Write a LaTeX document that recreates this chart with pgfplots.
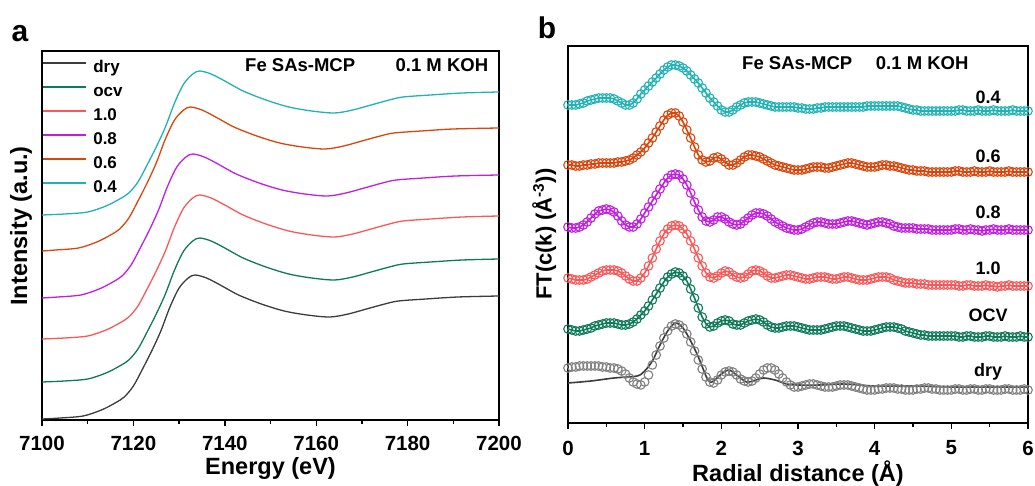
\documentclass[border=0pt]{standalone}
\usepackage{fontspec}
\setmainfont{Liberation Sans}
\usepackage{pgfplots}
\usepackage{pgfplotstable}
\pgfplotsset{compat=1.18}

\definecolor{cdry}{HTML}{3C3C3C}
\definecolor{cgray}{HTML}{808080}
\definecolor{cocv}{HTML}{0F7A58}
\definecolor{cten}{HTML}{FA5858}
\definecolor{cpur}{HTML}{C21EE0}
\definecolor{cora}{HTML}{D9460C}
\definecolor{ccya}{HTML}{20B2B4}

\pgfplotstableread{
R dry ocv ten eight six four
0.00 55 94 145 196 258 318
0.05 56 93 144 195 258 318
0.10 56 92 143 195 257 318
0.15 57 92 143 196 257 319
0.20 57 93 143 198 258 320
0.25 57 94 144 201 258 322
0.30 57 95 146 205 259 323
0.35 57 97 148 209 259 324
0.40 57 98 150 212 260 325
0.45 56 99 152 213 260 325
0.50 56 100 153 214 260 325
0.55 55 100 153 213 260 325
0.60 55 100 153 211 260 324
0.65 54 99 152 207 261 322
0.70 52 98 150 202 261 320
0.75 49 98 147 198 262 318
0.80 45 99 144 196 263 318
0.85 41 101 142 196 265 320
0.90 39 104 142 199 268 324
0.95 38 108 145 204 271 329
1.00 41 112 150 210 275 333
1.05 48 117 157 216 280 337
1.10 58 123 165 222 285 341
1.15 68 129 174 228 291 345
1.20 77 135 182 234 297 349
1.25 85 141 189 240 303 353
1.30 92 146 194 245 308 356
1.35 97 149 197 248 310 358
1.40 99 151 198 249 310 358
1.45 98 150 197 248 307 357
1.50 95 147 194 244 301 355
1.55 89 142 189 238 293 352
1.60 81 134 182 230 285 348
1.65 72 125 174 221 276 344
1.70 63 115 165 213 268 340
1.75 54 106 157 206 263 335
1.80 46 99 150 202 261 330
1.85 41 96 146 201 262 325
1.90 40 97 145 203 265 321
1.95 43 100 147 206 266 317
2.00 48 102 150 206 264 313
2.05 51 103 152 204 261 311
2.10 52 102 151 201 258 311
2.15 51 99 148 199 258 313
2.20 48 98 146 198 260 316
2.25 44 98 145 199 263 318
2.30 42 100 146 202 266 320
2.35 41 102 149 205 268 321
2.40 42 103 152 208 268 321
2.45 45 104 153 210 267 321
2.50 49 103 152 210 266 320
2.55 53 101 150 209 264 319
2.60 55 98 147 207 262 318
2.65 55 96 145 204 260 317
2.70 53 95 145 201 258 316
2.75 49 95 146 199 257 316
2.80 45 96 147 197 256 316
2.85 41 97 148 195 255 316
2.90 38 97 148 194 254 316
2.95 36 97 147 193 253 316
3.00 36 96 146 193 253 315
3.05 37 95 145 194 253 315
3.10 38 94 144 196 254 314
3.15 39 93 144 198 255 314
3.20 39 93 145 200 256 314
3.25 38 93 146 201 256 315
3.30 37 93 146 201 256 315
3.35 36 94 146 200 255 316
3.40 36 95 145 199 255 316
3.45 36 96 144 199 256 316
3.50 37 97 144 199 257 316
3.55 38 97 145 200 258 316
3.60 38 97 146 201 259 316
3.65 38 96 146 202 260 316
3.70 37 95 145 202 260 316
3.75 36 94 144 201 259 316
3.80 35 93 143 200 258 316
3.85 34 92 143 199 257 316
3.90 33 92 143 198 256 317
3.95 33 92 144 199 256 317
4.00 33 93 145 200 256 317
4.05 34 94 146 201 257 317
4.10 34 95 146 201 258 317
4.15 35 96 146 200 258 317
4.20 35 96 145 199 257 317
4.25 35 96 143 197 257 317
4.30 34 95 142 196 256 317
4.35 34 94 141 195 255 316
4.40 33 92 140 195 254 315
4.45 33 91 140 195 253 314
4.50 33 90 140 195 253 313
4.55 34 89 139 194 252 313
4.60 34 88 139 194 252 312
4.65 35 88 139 194 252 312
4.70 35 87 138 194 251 312
4.75 34 87 138 193 251 312
4.80 34 87 138 193 251 312
4.85 33 87 138 193 251 312
4.90 33 87 138 193 251 312
4.95 33 87 138 193 251 312
5.00 33 87 138 193 251 312
5.05 34 87 138 194 252 312
5.10 34 86 137 194 252 313
5.15 33 86 137 193 251 313
5.20 33 87 138 193 251 312
5.25 34 87 138 194 251 312
5.30 34 86 137 193 252 312
5.35 33 86 137 193 251 313
5.40 33 86 137 192 251 312
5.45 34 87 138 193 251 312
5.50 34 87 137 193 252 312
5.55 33 86 137 194 251 313
5.60 33 86 136 193 251 312
5.65 33 86 137 193 251 312
5.70 34 87 137 193 251 312
5.75 34 86 138 194 252 312
5.80 33 86 137 193 251 313
5.85 33 86 137 193 251 312
5.90 33 87 137 193 251 312
5.95 34 86 137 193 251 312
6.00 33 86 137 193 251 312
}\ftdata

\begin{document}
\begin{tikzpicture}
\useasboundingbox (0,0) rectangle (1035pt,486pt);

% ---------------- panel a ----------------
\begin{axis}[
  at={(42pt,66pt)}, anchor=south west, scale only axis,
  width=457pt, height=369pt,
  xmin=7100, xmax=7200, ymin=0, ymax=369,
  xtick={7100,7120,7140,7160,7180,7200}, minor x tick num=1,
  ytick=\empty, xtick pos=left,
  tick align=outside, major tick length=6pt, minor tick length=4pt,
  axis line style={line width=1.8pt},
  tick style={line width=1.4pt, black},
  /pgf/number format/assume math mode=true,
  /pgf/number format/1000 sep={},
  ticklabel style={font=\fontsize{20.5}{21}\selectfont\bfseries},
  xticklabel style={anchor=center, yshift=-17pt},
  xlabel={Energy (eV)}, ylabel={Intensity (a.u.)},
  every axis x label/.style={at={(axis description cs:0.5,0)}, anchor=center, yshift=-48pt, font=\fontsize{23.5}{24}\selectfont\bfseries},
  every axis y label/.style={at={(axis description cs:-0.046,0.526)}, rotate=90, anchor=center, font=\fontsize{23.5}{24}\selectfont\bfseries},
  legend style={at={(axis description cs:0,1)}, anchor=north west, draw=none, fill=none,
    inner sep=0pt, outer sep=0pt, row sep=8pt, column sep=7pt, yshift=-10pt,
    font=\fontsize{17}{17}\selectfont\bfseries,
    nodes={text height=12pt, text depth=4pt, inner sep=0pt}},
  legend cell align=left,
  legend image code/.code={\draw[#1] (0pt,6pt) -- (43pt,6pt);},
]
\addplot[color=cdry, line width=1.3pt, smooth] coordinates {
(7100,1) (7104,2) (7109,4) (7113,10) (7116,17) (7118,23) (7120,34) (7122,51) (7124,69) (7126,89) (7128,113) (7130,132) (7132,142) (7133.5,145) (7136,142) (7139,135) (7143,125) (7148,116) (7153,109) (7158,105) (7163,103) (7167,106) (7171,111) (7175,116) (7178,119) (7184,121) (7191,123) (7200,124)};
\addlegendentry{dry}
\addplot[color=cocv, line width=1.3pt, smooth] coordinates {
(7100,38) (7105,39) (7110,41) (7114,47) (7117,54) (7119,60) (7121,71) (7123,88) (7125,106) (7127,126) (7129,150) (7131,169) (7133,179) (7134.5,182) (7137,179) (7140,172) (7144,162) (7149,153) (7154,146) (7159,142) (7164,140) (7168,143) (7172,148) (7176,153) (7179,156) (7185,158) (7192,160) (7200,161)};
\addlegendentry{ocv}
\addplot[color=cten, line width=1.3pt, smooth] coordinates {
(7100,81) (7105,82) (7110,84) (7114,90) (7117,97) (7119,103) (7121,114) (7123,131) (7125,149) (7127,169) (7129,193) (7131,212) (7133,222) (7134.5,225) (7137,222) (7140,215) (7144,205) (7149,196) (7154,189) (7159,185) (7164,183) (7168,186) (7172,191) (7176,196) (7179,199) (7185,201) (7192,203) (7200,204)};
\addlegendentry{1.0}
\addplot[color=cpur, line width=1.3pt, smooth] coordinates {
(7100,122) (7103.5,123) (7108.5,125) (7112.5,131) (7115.5,138) (7117.5,144) (7119.5,155) (7121.5,172) (7123.5,190) (7125.5,210) (7127.5,234) (7129.5,253) (7131.5,263) (7133,266) (7135.5,263) (7138.5,256) (7142.5,246) (7147.5,237) (7152.5,230) (7157.5,226) (7162.5,224) (7166.5,227) (7170.5,232) (7174.5,237) (7177.5,240) (7183.5,242) (7190.5,244) (7200,245)};
\addlegendentry{0.8}
\addplot[color=cora, line width=1.3pt, smooth] coordinates {
(7100,169) (7103,170) (7108,172) (7112,178) (7115,185) (7117,191) (7119,202) (7121,219) (7123,237) (7125,257) (7127,281) (7129,300) (7131,310) (7132.5,313) (7135,310) (7138,303) (7142,293) (7147,284) (7152,277) (7157,273) (7162,271) (7166,274) (7170,279) (7174,284) (7177,287) (7183,289) (7190,291) (7200,292)};
\addlegendentry{0.6}
\addplot[color=ccya, line width=1.3pt, smooth] coordinates {
(7100,205) (7105,206) (7110,208) (7114,214) (7117,221) (7119,227) (7121,238) (7123,255) (7125,273) (7127,293) (7129,317) (7131,336) (7133,346) (7134.5,349) (7137,346) (7140,339) (7144,329) (7149,320) (7154,313) (7159,309) (7164,307) (7168,310) (7172,315) (7176,320) (7179,323) (7185,325) (7192,327) (7200,328)};
\addlegendentry{0.4}
\node[font=\fontsize{18.5}{19}\selectfont\bfseries] at (axis cs:7156.5,355) {Fe SAs-MCP};
\node[font=\fontsize{18.5}{19}\selectfont\bfseries] at (axis cs:7187.5,355) {0.1 M KOH};
\end{axis}

% ---------------- panel b ----------------
\begin{axis}[
  at={(568pt,63pt)}, anchor=south west, scale only axis,
  width=460pt, height=377pt,
  xmin=0, xmax=6, ymin=0, ymax=377,
  xtick={0,1,2,3,4,5,6}, minor x tick num=1,
  ytick=\empty, xtick pos=left,
  tick align=outside, major tick length=6pt, minor tick length=4pt,
  axis line style={line width=1.8pt},
  tick style={line width=1.4pt, black},
  /pgf/number format/assume math mode=true,
  ticklabel style={font=\fontsize{20.5}{21}\selectfont\bfseries},
  xticklabel style={anchor=center, yshift=-19pt},
  xlabel={Radial distance (Å)}, ylabel={FT(c(k) (Å\textsuperscript{-3}))},
  every axis x label/.style={at={(axis description cs:0.5,0)}, anchor=center, yshift=-51pt, font=\fontsize{23.5}{24}\selectfont\bfseries},
  every axis y label/.style={at={(axis description cs:-0.052,0.501)}, rotate=90, anchor=center, font=\fontsize{22}{24}\selectfont\bfseries},
  clip=true,
]
\addplot[only marks, mark=o, mark size=4.3pt, color=cgray, mark options={line width=1.1pt}] table[x=R, y=dry] {\ftdata};
\addplot[color=cdry, line width=1.6pt, smooth] coordinates {
(0,40) (0.3,42) (0.6,45) (0.9,47) (1.0,52) (1.1,62) (1.2,78) (1.3,92) (1.4,100) (1.5,95) (1.6,82) (1.7,66) (1.8,47) (1.85,41) (1.9,42) (2.0,49) (2.1,53) (2.2,48) (2.33,41) (2.45,43) (2.55,45) (2.7,43) (2.85,39) (3.0,38) (3.3,38) (3.6,39) (4.0,37) (4.5,37) (5.0,36) (5.5,36) (6.0,36)};
\addplot[only marks, mark=o, mark size=4.3pt, color=cocv, mark options={line width=1.1pt}] table[x=R, y=ocv] {\ftdata};
\addplot[color=cocv, line width=1.6pt] table[x=R, y=ocv] {\ftdata};
\addplot[only marks, mark=o, mark size=4.3pt, color=cten, mark options={line width=1.1pt}] table[x=R, y=ten] {\ftdata};
\addplot[color=cten, line width=1.6pt] table[x=R, y=ten] {\ftdata};
\addplot[only marks, mark=o, mark size=4.3pt, color=cpur, mark options={line width=1.1pt}] table[x=R, y=eight] {\ftdata};
\addplot[color=cpur, line width=1.6pt] table[x=R, y=eight] {\ftdata};
\addplot[only marks, mark=o, mark size=4.3pt, color=cora, mark options={line width=1.1pt}] table[x=R, y=six] {\ftdata};
\addplot[color=cora, line width=1.6pt] table[x=R, y=six] {\ftdata};
\addplot[only marks, mark=o, mark size=4.3pt, color=ccya, mark options={line width=1.1pt}] table[x=R, y=four] {\ftdata};
\addplot[color=ccya, line width=1.6pt] table[x=R, y=four] {\ftdata};
\node[font=\fontsize{18.5}{19}\selectfont\bfseries] at (axis cs:2.99,360) {Fe SAs-MCP};
\node[font=\fontsize{18.5}{19}\selectfont\bfseries] at (axis cs:4.62,360) {0.1 M KOH};
\node[anchor=base, font=\fontsize{18}{18}\selectfont\bfseries] at (axis cs:5.48,319) {0.4};
\node[anchor=base, font=\fontsize{18}{18}\selectfont\bfseries] at (axis cs:5.48,260) {0.6};
\node[anchor=base, font=\fontsize{18}{18}\selectfont\bfseries] at (axis cs:5.48,204) {0.8};
\node[anchor=base, font=\fontsize{18}{18}\selectfont\bfseries] at (axis cs:5.48,148) {1.0};
\node[anchor=base, font=\fontsize{18}{18}\selectfont\bfseries] at (axis cs:5.48,101) {OCV};
\node[anchor=base, font=\fontsize{18}{18}\selectfont\bfseries] at (axis cs:5.48,46) {dry};
\end{axis}

\node[font=\fontsize{30}{30}\selectfont\bfseries] at (20pt,452pt) {a};
\node[font=\fontsize{30}{30}\selectfont\bfseries] at (547pt,458pt) {b};
\end{tikzpicture}
\end{document}
